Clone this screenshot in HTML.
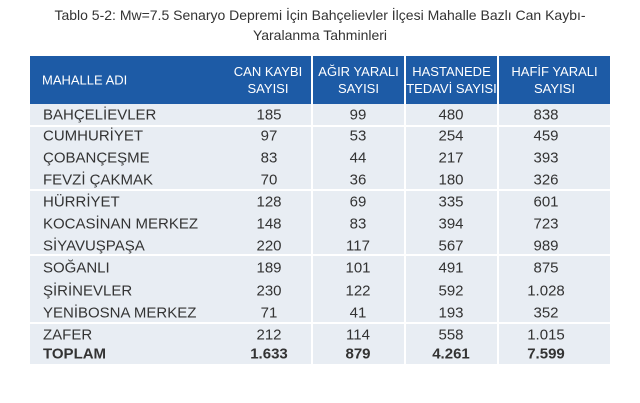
<!DOCTYPE html>
<html><head><meta charset="utf-8"><style>
body{margin:0;width:640px;height:403px;background:#fff;font-family:"Liberation Sans",sans-serif;position:relative;overflow:hidden}
.t{position:absolute;left:0;width:640px;text-align:center;font-size:14px;color:#333}
.bg{position:absolute;left:30px;top:104px;width:580px;height:260px;background:#e8edf3}
.hd{position:absolute;left:30px;top:56px;width:580px;height:48px;background:#1d5ba6}
.hl{position:absolute;left:30px;width:580px;height:2px;background:#fff}
.vl{position:absolute;top:56px;width:2px;height:308px;background:#fff}
.c{position:absolute;font-size:15px;color:#333;transform:translateY(-50%)}
.h{position:absolute;color:#fff;font-size:13px;text-align:center;line-height:17px;transform:translateY(-50%)}
</style></head><body>
<div class="t" style="top:7px">Tablo 5-2: Mw=7.5 Senaryo Depremi İçin Bahçelievler İlçesi Mahalle Bazlı Can Kaybı-</div>
<div class="t" style="top:27px">Yaralanma Tahminleri</div>
<div class="bg"></div><div class="hd"></div>
<div class="hl" style="top:125px"></div><div class="hl" style="top:189px"></div><div class="hl" style="top:254px"></div><div class="hl" style="top:322px"></div>
<div class="vl" style="left:311px"></div><div class="vl" style="left:404px"></div><div class="vl" style="left:497px"></div>
<div class="h" style="left:42px;top:80px">MAHALLE ADI</div>
<div class="h" style="left:223px;width:90px;top:80px">CAN KAYBI<br>SAYISI</div>
<div class="h" style="left:311px;width:95px;top:80px">AĞIR YARALI<br>SAYISI</div>
<div class="h" style="left:404px;width:95px;top:80px">HASTANEDE<br>TEDAVİ SAYISI</div>
<div class="h" style="left:499px;width:111px;top:80px">HAFİF YARALI<br>SAYISI</div>
<div id="rows"></div>
<script>
var d=[["BAHÇELİEVLER","185","99","480","838",115],["CUMHURİYET","97","53","254","459",136],["ÇOBANÇEŞME","83","44","217","393",158],["FEVZİ ÇAKMAK","70","36","180","326",180],["HÜRRİYET","128","69","335","601",202],["KOCASİNAN MERKEZ","148","83","394","723",224],["SİYAVUŞPAŞA","220","117","567","989",246],["SOĞANLI","189","101","491","875",268],["ŞİRİNEVLER","230","122","592","1.028",291],["YENİBOSNA MERKEZ","71","41","193","352",313],["ZAFER","212","114","558","1.015",335],["TOPLAM","1.633","879","4.261","7.599",354]];
var cx=[269,358,451,546],h="";
d.forEach(function(r,i){var s=i==11?"font-weight:bold;":"";
h+='<div class="c" style="'+s+'left:43px;top:'+r[5]+'px">'+r[0]+'</div>';
for(var j=0;j<4;j++)h+='<div class="c" style="'+s+'left:'+(cx[j]-50)+'px;width:100px;text-align:center;top:'+r[5]+'px">'+r[j+1]+'</div>';});
document.getElementById("rows").innerHTML=h;
</script>
</body></html>
